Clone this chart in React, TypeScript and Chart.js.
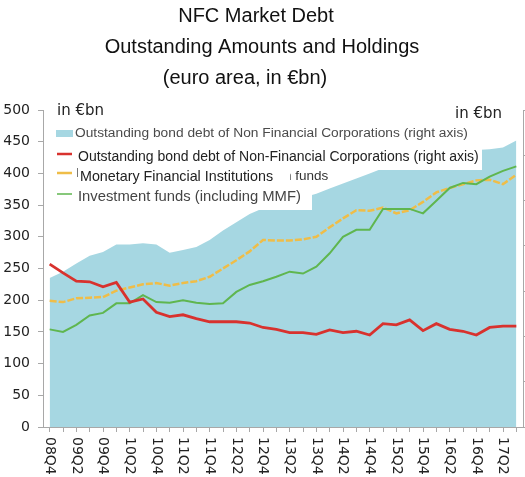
import React, { useEffect, useRef } from "react";
import { Chart, registerables } from "chart.js";

Chart.register(...registerables);

const quarters = [
  "08Q4",
  "09Q1", "09Q2", "09Q3", "09Q4",
  "10Q1", "10Q2", "10Q3", "10Q4",
  "11Q1", "11Q2", "11Q3", "11Q4",
  "12Q1", "12Q2", "12Q3", "12Q4",
  "13Q1", "13Q2", "13Q3", "13Q4",
  "14Q1", "14Q2", "14Q3", "14Q4",
  "15Q1", "15Q2", "15Q3", "15Q4",
  "16Q1", "16Q2", "16Q3", "16Q4",
  "17Q1", "17Q2", "17Q3",
];

const outstandingArea = [
  235, 245, 258, 270, 276, 288, 288, 290, 288, 275, 279, 284, 295, 310, 323, 336,
  345, 350, 356, 362, 368, 376, 384, 392, 400, 408, 416, 421, 426, 430, 433, 435,
  437, 438, 441, 452,
];

const outstandingLine = [
  257, 243, 230, 229, 221, 228, 197, 202, 181, 174, 177, 171, 166, 166, 166, 164,
  157, 154, 149, 149, 146, 153, 149, 151, 145, 163, 161, 169, 152, 163, 154, 151,
  145, 157, 159, 159,
];

const mfi = [
  199, 197, 203, 204, 205, 215, 220, 225, 227, 223, 227, 230, 237, 250, 263, 277,
  295, 294, 294, 296, 300, 315, 329, 342, 341, 346, 337, 342, 355, 370, 377, 383,
  389, 390, 383, 398,
];

const investmentFunds = [
  154, 150, 161, 176, 180, 195, 195, 208, 197, 196, 200, 196, 194, 195, 213, 224,
  230, 237, 245, 242, 253, 274, 300, 311, 311, 344, 344, 344, 337, 357, 377, 385,
  383, 395, 404, 411,
];

const titleLines = ["NFC Market Debt", "Outstanding Amounts and Holdings", "(euro area, in €bn)"];
const unitLabel = "in €bn";
const legendLabels = [
  "Outstanding bond debt of Non Financial Corporations (right axis)",
  "Outstanding bond debt of Non-Financial Corporations (right axis)",
  "Monetary Financial Institutions",
  "Investment funds (including MMF)",
];
const legendFragment = "n funds";

const AREA_COLOR = "#a6d7e2";
const RED = "#d8322e";
const YELLOW = "#efbd48";
const GREEN = "#5fb64f";
const AXIS_COLOR = "#a8a8a8";

const decorPlugin = {
  id: "decor",
  afterDatasetsDraw(chart: any) {
    const ctx = chart.ctx as CanvasRenderingContext2D;
    ctx.save();
    // white legend panel (covers the area like in the source)
    ctx.fillStyle = "#ffffff";
    ctx.fillRect(45, 120, 437, 50);
    ctx.fillRect(45, 170, 244, 18);
    ctx.fillRect(45, 188, 267, 22);

    // swatches
    ctx.fillStyle = AREA_COLOR;
    ctx.fillRect(56, 130, 17, 7);
    ctx.lineCap = "butt";
    ctx.strokeStyle = RED;
    ctx.lineWidth = 2.5;
    ctx.beginPath(); ctx.moveTo(57, 154); ctx.lineTo(72, 154); ctx.stroke();
    ctx.strokeStyle = YELLOW;
    ctx.lineWidth = 2.5;
    ctx.beginPath(); ctx.moveTo(57, 173); ctx.lineTo(72, 173); ctx.stroke();
    ctx.strokeStyle = GREEN;
    ctx.lineWidth = 1.5;
    ctx.beginPath(); ctx.moveTo(57, 194); ctx.lineTo(72, 194); ctx.stroke();
    ctx.strokeStyle = "#777";
    ctx.lineWidth = 1;
    ctx.beginPath(); ctx.moveTo(77.5, 168); ctx.lineTo(77.5, 177); ctx.stroke();

    ctx.textBaseline = "middle";
    ctx.textAlign = "left";
    // first row: slightly squat, wide text
    ctx.save();
    ctx.translate(75, 134);
    ctx.scale(1.1, 1);
    ctx.font = "12.5px 'Liberation Sans', Arial, sans-serif";
    ctx.fillStyle = "#4a4a4a";
    ctx.fillText(legendLabels[0], 0, 0);
    ctx.restore();

    ctx.fillStyle = "#222";
    ctx.font = "14px 'Liberation Sans', Arial, sans-serif";
    ctx.fillText(legendLabels[1], 78, 157);
    ctx.font = "14.3px 'Liberation Sans', Arial, sans-serif";
    ctx.fillText(legendLabels[2], 80, 177);
    ctx.fillStyle = "#444";
    ctx.font = "14.8px 'Liberation Sans', Arial, sans-serif";
    ctx.fillText(legendLabels[3], 78, 197);
    // clipped fragment of a hidden label
    ctx.save();
    ctx.beginPath();
    ctx.rect(290, 165, 60, 18);
    ctx.clip();
    ctx.fillStyle = "#333";
    ctx.font = "13.5px 'Liberation Sans', Arial, sans-serif";
    ctx.fillText(legendFragment, 284, 176);
    ctx.restore();

    // unit labels
    ctx.textBaseline = "alphabetic";
    ctx.fillStyle = "#222";
    ctx.font = "15px 'DejaVu Sans', sans-serif";
    ctx.fillText(unitLabel, 57, 115);
    ctx.fillText(unitLabel, 455, 118);
    ctx.restore();
  },
  afterDraw(chart: any) {
    const ctx = chart.ctx as CanvasRenderingContext2D;
    const xs = chart.scales.x;
    ctx.save();
    // rotated x labels, reading top to bottom
    ctx.fillStyle = "#222";
    ctx.font = "14px 'DejaVu Sans', sans-serif";
    ctx.textAlign = "left";
    ctx.textBaseline = "middle";
    quarters.forEach((q, i) => {
      if (i % 2 !== 0) return;
      const x = xs.getPixelForValue(i);
      ctx.save();
      ctx.translate(x, 437);
      ctx.rotate(Math.PI / 2);
      ctx.fillText(q, 0, 0);
      ctx.restore();
    });
    // title
    ctx.fillStyle = "#111";
    ctx.font = "20px 'Liberation Sans', Arial, sans-serif";
    ctx.textAlign = "center";
    ctx.textBaseline = "alphabetic";
    ctx.fillText(titleLines[0], 256, 22);
    ctx.fillText(titleLines[1], 262, 53);
    ctx.fillText(titleLines[2], 245, 84);
    ctx.restore();
  },
};

export default function App() {
  const canvasRef = useRef<HTMLCanvasElement | null>(null);

  useEffect(() => {
    if (!canvasRef.current) return;
    const chart = new Chart(canvasRef.current, {
      type: "line",
      data: {
        labels: quarters,
        datasets: [
          {
            label: legendLabels[0],
            data: outstandingArea,
            fill: "origin",
            backgroundColor: AREA_COLOR,
            borderColor: AREA_COLOR,
            borderWidth: 0,
            pointRadius: 0,
            tension: 0,
            order: 10,
          },
          {
            label: legendLabels[2],
            data: mfi,
            fill: false,
            borderColor: YELLOW,
            borderWidth: 2.5,
            borderDash: [7, 2],
            pointRadius: 0,
            tension: 0,
            order: 3,
          },
          {
            label: legendLabels[3],
            data: investmentFunds,
            fill: false,
            borderColor: GREEN,
            borderWidth: 2,
            pointRadius: 0,
            tension: 0,
            order: 2,
          },
          {
            label: legendLabels[1],
            data: outstandingLine,
            fill: false,
            borderColor: RED,
            borderWidth: 2.8,
            pointRadius: 0,
            tension: 0,
            order: 1,
          },
        ],
      },
      options: {
        responsive: false,
        animation: false,
        layout: { padding: { top: 110, left: 0, right: 0, bottom: 0 } },
        plugins: {
          legend: { display: false },
          title: { display: false },
          tooltip: { enabled: false },
        },
        scales: {
          x: {
            type: "category",
            offset: true,
            grid: {
              display: true,
              drawOnChartArea: false,
              drawTicks: true,
              tickLength: 5,
              color: AXIS_COLOR,
            },
            border: { display: true, color: AXIS_COLOR, width: 1 },
            ticks: { autoSkip: false, maxRotation: 0, callback: () => "" },
            afterFit: (s: any) => {
              s.height = 50;
            },
          },
          y: {
            min: 0,
            max: 500,
            position: "left",
            grid: {
              display: true,
              drawOnChartArea: false,
              drawTicks: true,
              tickLength: 5,
              color: AXIS_COLOR,
            },
            border: { display: true, color: AXIS_COLOR, width: 1 },
            ticks: {
              stepSize: 50,
              padding: 8,
              color: "#222",
              font: { family: "'DejaVu Sans', sans-serif", size: 14 },
            },
            afterFit: (s: any) => {
              s.width = 43;
            },
          },
          y2: {
            min: 0,
            max: 1400,
            position: "right",
            grid: {
              display: true,
              drawOnChartArea: false,
              drawTicks: true,
              tickLength: 4,
              color: AXIS_COLOR,
            },
            border: { display: true, color: AXIS_COLOR, width: 1 },
            ticks: { display: false, stepSize: 200 },
            afterFit: (s: any) => {
              s.width = 2;
            },
          },
        },
      },
      plugins: [decorPlugin],
    });
    return () => chart.destroy();
  }, []);

  return (
    <div style={{ position: "absolute", left: 0, top: 0, width: 525, height: 477, background: "#fff" }}>
      <canvas ref={canvasRef} width={525} height={477} style={{ display: "block" }} />
    </div>
  );
}
